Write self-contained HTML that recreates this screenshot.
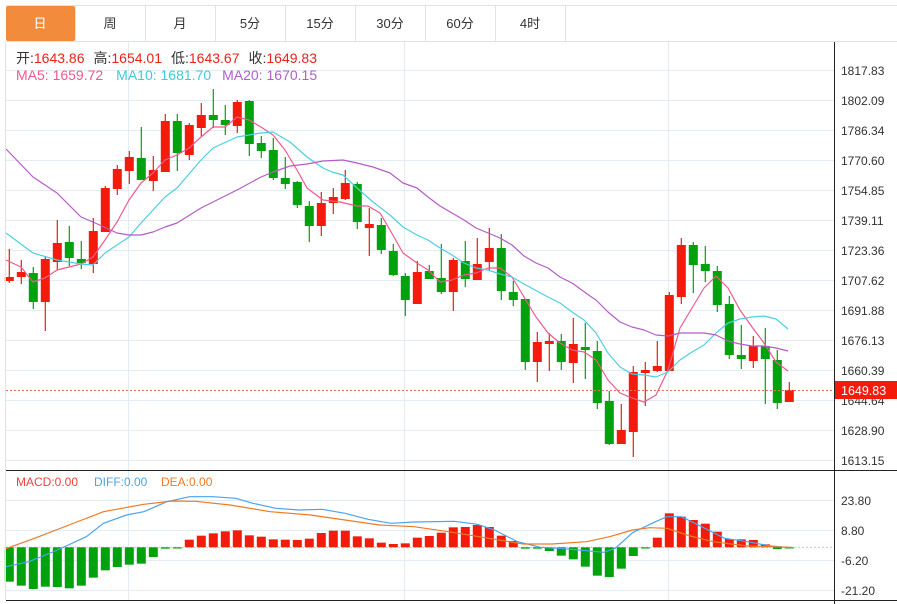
<!DOCTYPE html>
<html><head><meta charset="utf-8"><style>
html,body{margin:0;padding:0;background:#fff;width:897px;height:604px;overflow:hidden}
svg{display:block;font-family:"Liberation Sans","Noto Sans CJK SC",sans-serif}
</style></head><body>
<svg id="s" width="897" height="604" viewBox="0 0 897 604" xmlns="http://www.w3.org/2000/svg">
<g id="grid"></g>
<!-- tabs -->
<line x1="6" y1="5.5" x2="897" y2="5.5" stroke="#dfe3e8"/>
<line x1="6" y1="41.5" x2="897" y2="41.5" stroke="#dfe3e8"/>
<rect x="6" y="6" width="69" height="35" rx="2" fill="#F28C3C"/>
<g stroke="#dfe3e8"><line x1="75.5" y1="6" x2="75.5" y2="41"/><line x1="145.5" y1="6" x2="145.5" y2="41"/><line x1="215.5" y1="6" x2="215.5" y2="41"/><line x1="285.5" y1="6" x2="285.5" y2="41"/><line x1="355.5" y1="6" x2="355.5" y2="41"/><line x1="425.5" y1="6" x2="425.5" y2="41"/><line x1="495.5" y1="6" x2="495.5" y2="41"/><line x1="565.5" y1="6" x2="565.5" y2="41"/></g>
<g font-size="13" text-anchor="middle" fill="#333">
<text x="40" y="28" fill="#fff">日</text><text x="110" y="28">周</text><text x="180" y="28">月</text><text x="250" y="28">5分</text><text x="320" y="28">15分</text><text x="390" y="28">30分</text><text x="460" y="28">60分</text><text x="530" y="28">4时</text>
</g>
<g font-size="14">
<text x="16" y="63"><tspan fill="#333">开:</tspan><tspan fill="#e8231a">1643.86</tspan><tspan fill="#333" dx="9">高:</tspan><tspan fill="#e8231a">1654.01</tspan><tspan fill="#333" dx="9">低:</tspan><tspan fill="#e8231a">1643.67</tspan><tspan fill="#333" dx="9">收:</tspan><tspan fill="#e8231a">1649.83</tspan></text>
<text x="16" y="80"><tspan fill="#ee5a8b">MA5: 1659.72</tspan><tspan fill="#3ec9dd" dx="13">MA10: 1681.70</tspan><tspan fill="#b45cc8" dx="11">MA20: 1670.15</tspan></text>
</g>
<g id="main"></g>
<!-- axes -->
<line x1="834.5" y1="42" x2="834.5" y2="604" stroke="#222"/>
<line x1="6" y1="470.5" x2="897" y2="470.5" stroke="#222"/>
<line x1="6" y1="600.5" x2="897" y2="600.5" stroke="#222"/>
<line x1="5.5" y1="42" x2="5.5" y2="600" stroke="#dfe3e8"/>
<g font-size="12" fill="#333">
<text x="841" y="75">1817.83</text><text x="841" y="105">1802.09</text><text x="841" y="135">1786.34</text><text x="841" y="165">1770.60</text><text x="841" y="195">1754.85</text><text x="841" y="225">1739.11</text><text x="841" y="255">1723.36</text><text x="841" y="285">1707.62</text><text x="841" y="315">1691.88</text><text x="841" y="345">1676.13</text><text x="841" y="375">1660.39</text><text x="841" y="405">1644.64</text><text x="841" y="435">1628.90</text><text x="841" y="465">1613.15</text>
<text x="841" y="505">23.80</text><text x="841" y="535">8.80</text><text x="841" y="565">-6.20</text><text x="841" y="595">-21.20</text>
</g>
<rect x="835" y="381" width="62" height="18" fill="#f21b0c"/>
<text x="841" y="395" font-size="12.5" fill="#fff">1649.83</text>
<g font-size="12"><text x="16" y="486" fill="#f0433a">MACD:0.00</text><text x="94" y="486" fill="#4aa3f0">DIFF:0.00</text><text x="161" y="486" fill="#f07a22">DEA:0.00</text></g>
</svg>
<script>
var NS="http://www.w3.org/2000/svg";
function el(p,t,a){var e=document.createElementNS(NS,t);for(var k in a)e.setAttribute(k,a[k]);p.appendChild(e);return e;}
var g=document.getElementById('grid'),m=document.getElementById('main');
for(var y=70.5;y<=461;y+=30)el(g,'line',{x1:6,y1:y,x2:834,y2:y,stroke:'#e3ecf3'});
for(var y2=500.5;y2<=591;y2+=30)el(g,'line',{x1:6,y1:y2,x2:834,y2:y2,stroke:'#e3ecf3'});
[128.5,404.5,668.5].forEach(function(x){el(g,'line',{x1:x,y1:42,x2:x,y2:600,stroke:'#e3ecf3'});});
var R='#f21b0c',G='#00a30c';
var C=[[277,281,249,283,1],[272,277,260,284,1],[273,302,267,309,0],[259,302,256,331,1],[243,262,220,270,1],[242,258,226,266,0],[259,263,241,269,0],[231,264,218,273,1],[188,232,186,232,1],[169,189,165,195,1],[157,171,151,184,1],[158,180,127,180,0],[170,181,156,191,1],[121,172,114,172,1],[121,153,114,171,0],[125,155,123,160,1],[115,128,103,137,1],[115,120,89,128,0],[120,125,105,135,0],[102,126,100,133,1],[101,144,100,156,0],[143,151,136,158,0],[150,178,138,180,0],[178,184,157,189,0],
[182,205,181,208,0],[206,226,201,242,0],[203,226,192,236,1],[197,203,188,214,1],[183,199,170,200,1],[184,222,182,229,0],[224,228,208,256,1],[225,250,218,254,0],[251,275,244,276,0],[276,300,273,316,0],[272,304,261,304,1],[271,279,265,279,0],[278,292,244,294,0],[260,292,258,311,1],[261,279,241,287,0],[264,280,238,280,1],[248,262,228,270,1],[248,291,234,300,0],[292,300,281,306,0],[299,362,299,370,0],[342,362,332,382,1],[341,344,333,371,1],[341,362,334,370,0],[344,363,318,383,1],[347,350,323,379,0],
[351,403,341,409,0],[401,444,391,445,0],[430,444,404,444,1],[372,432,366,457,1],[370,373,362,406,1],[366,371,341,372,1],[295,371,292,371,1],[245,297,238,304,1],[245,265,242,293,0],[264,271,246,282,0],[271,305,266,312,0],[304,355,296,359,0],[355,359,325,369,0],[346,361,336,368,1],[346,359,328,404,0],[360,403,350,409,0],[390,402,382,402,1]];
C.forEach(function(c,i){var x=9.3+12*i,col=c[4]?R:G;
el(m,'line',{x1:x,y1:c[2],x2:x,y2:c[3],stroke:col,'stroke-width':1.2});
el(m,'rect',{x:x-4.5,y:c[0],width:9,height:Math.max(2,c[1]-c[0]),fill:col});});
function pl(pts,col,w){el(m,'polyline',{points:pts,fill:'none',stroke:col,'stroke-width':w||1.2,'stroke-linejoin':'round'});}
pl("6,260 21,267 33,282 45,278 57,270 69,267 81,264 93,257 105,240 117,222 129,200 141,183 153,173 165,160 177,155 189,148 201,137 213,127 225,127 237,117 249,120 261,127 273,135 285,150 297,170 307,188 323,200 340,202 357,206 368,206 380,213 390,230 403,253 417,263 428,270 440,282 452,280 464,275 476,273 488,268 500,268 512,277 524,297 536,317 548,333 560,343 572,350 584,352 596,360 608,380 620,393 632,398 644,402 656,395 668,370 680,328 692,308 704,288 716,276 728,288 740,310 752,327 764,343 776,362 788,371","#ee5a8b");
pl("6,233 33,253 57,260 81,264 93,265 105,253 129,237 141,223 165,197 177,188 201,160 213,148 237,137 261,133 273,132 290,142 307,157 323,168 332,172 343,175 357,188 373,202 390,215 403,227 417,235 428,240 440,248 452,255 464,263 476,268 488,270 500,274 512,277 524,284 548,297 560,303 572,312 584,320 596,333 608,353 620,367 632,374 644,375 656,377 668,372 680,360 692,352 704,345 716,333 728,323 740,319 752,317 764,316 776,319 788,329","#4dcfe0");
pl("6,149 33,177 57,193 81,217 93,222 117,233 129,235 141,235 153,232 165,227 177,223 201,208 213,202 237,190 261,177 273,172 290,166 307,164 323,161 343,160 357,163 373,167 390,173 403,183 417,188 428,197 440,206 452,213 464,220 476,228 488,233 500,238 512,245 524,256 536,263 548,268 560,277 572,283 590,296 596,300 608,312 620,322 632,327 644,330 656,335 668,336 680,333 692,333 704,333 716,335 728,341 740,344 752,346 764,346 776,348 788,351","#b45cc8");
el(m,'line',{x1:6,y1:390.5,x2:834,y2:390.5,stroke:'#f26b5e','stroke-dasharray':'2,2'});
var Z=547.3;
var B=[365,377,387,380,381,385,377,353,331,321,314,311,291,266,263,239,227,220,214,211,226,230,238,239,240,236,219,212,212,229,235,248,252,250,233,228,218,202,201,195,201,227,243,266,266,273,287,298,320,347,351,326,288,265,233,160,170,180,191,215,237,238,240,253,267,263];
el(m,'line',{x1:6,y1:Z,x2:834,y2:Z,stroke:'#9fd3ea','stroke-dasharray':'2,2'});
B.forEach(function(b,i){var x=9.3+12*i,y=460+b/3,col=y>Z?G:R;var t=Math.min(y,Z),h=Math.abs(y-Z);
el(m,'rect',{x:x-4.5,y:t,width:9,height:Math.max(1.2,h),fill:col});});
function conv(a){return a.map(function(p){return (p[0]/1.739).toFixed(1)+","+(460+p[1]/3).toFixed(1);}).join(" ");}
pl(conv([[10,320],[50,305],[100,270],[150,230],[180,190],[220,165],[250,155],[290,125],[330,110],[370,110],[410,115],[440,130],[480,145],[520,150],[560,148],[600,160],[640,178],[680,190],[720,186],[790,184],[830,193],[860,210],[900,245],[940,262],[980,266],[1020,272],[1050,277],[1070,265],[1100,218],[1140,185],[1160,170],[1185,170],[1220,200],[1260,235],[1300,245],[1340,258],[1378,263]]),"#4aa3f0");
pl(conv([[10,266],[60,235],[120,195],[180,155],[250,133],[300,123],[340,124],[400,135],[470,155],[540,165],[600,180],[660,195],[720,200],[780,215],[850,235],[910,252],[960,252],[1020,245],[1060,230],[1100,210],[1130,203],[1160,205],[1200,228],[1240,245],[1300,258],[1378,262]]),"#f07a22");
</script>
</body></html>
